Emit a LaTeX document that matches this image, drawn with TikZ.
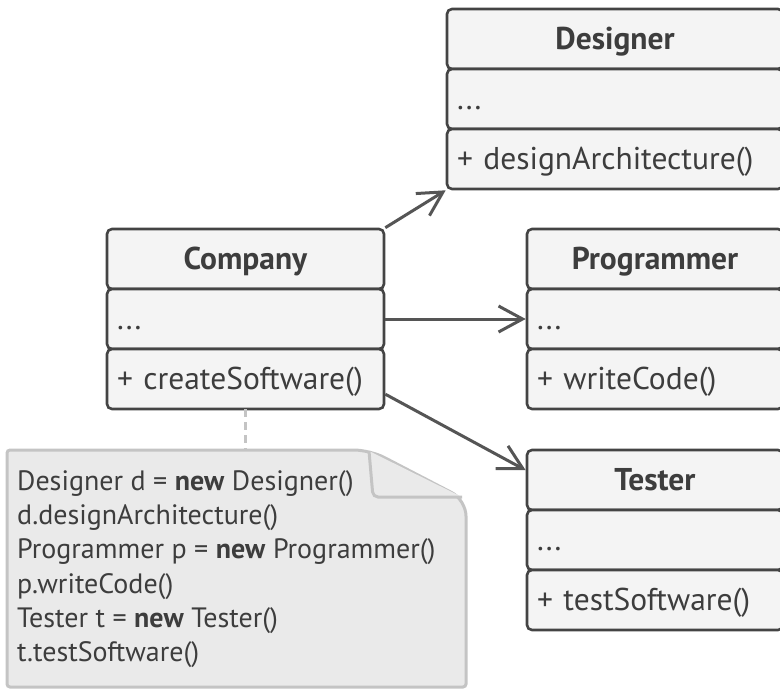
\documentclass[tikz,border=0pt]{standalone}
\usepackage{fontspec}
\setmainfont{PT Sans}
\usepackage{tikz}
\usetikzlibrary{positioning, fit, arrows.meta}

\definecolor{boxline}{HTML}{444444}
\definecolor{boxfill}{HTML}{F4F4F4}
\definecolor{notefill}{HTML}{EAEAEA}
\definecolor{noteline}{HTML}{C4C4C4}
\definecolor{txt}{HTML}{3D3D3D}
\definecolor{arrowcol}{HTML}{555555}

\begin{document}
\begin{tikzpicture}[
  x=1pt, y=-1pt,
  node distance=0pt and 143pt,
  classhead/.style={draw=boxline, fill=boxfill, line width=2.6pt, rounded corners=5pt,
    outer sep=0pt, minimum height=60pt, inner xsep=10pt, inner ysep=0pt,
    text height=21pt, text depth=1pt, text=txt, align=center,
    font=\fontsize{31.5}{36}\selectfont\bfseries},
  classpart/.style={classhead, align=left, font=\fontsize{31.5}{36}\selectfont},
  classbox/.style={inner sep=0pt, outer sep=1.3pt},
  assoc/.style={draw=arrowcol, line width=3pt, -{Straight Barb[length=24pt,width=26pt]}},
  notebox/.style={draw=noteline, fill=notefill, line width=3pt},
  dashline/.style={draw=noteline, line width=3pt, dash pattern=on 8pt off 5pt}
]
\useasboundingbox (0,0) rectangle (780,689);

% Company
\node[classhead, text width=257pt, anchor=north west] (chead) at (107,229) {Company};
\node[classpart, text width=257pt, below=of chead] (cattr) {...};
\node[classpart, text width=257pt, below=of cattr] (cmeth) {+ createSoftware()};
\node[classbox, fit=(chead)(cmeth)] (company) {};

% Designer
\node[classhead, text width=316pt, anchor=north west] (dhead) at (447,9) {Designer};
\node[classpart, text width=316pt, below=of dhead] (dattr) {...};
\node[classpart, text width=316pt, below=of dattr] (dmeth) {+ designArchitecture()};
\node[classbox, fit=(dhead)(dmeth)] (designer) {};

% Programmer
\node[classhead, text width=236pt, right=of chead] (phead) {Programmer};
\node[classpart, text width=236pt, below=of phead] (pattr) {...};
\node[classpart, text width=236pt, below=of pattr] (pmeth) {+ writeCode()};
\node[classbox, fit=(phead)(pmeth)] (programmer) {};

% Tester
\node[classhead, text width=236pt, below=41pt of pmeth] (thead) {Tester};
\node[classpart, text width=236pt, below=of thead] (tattr) {...};
\node[classpart, text width=236pt, below=of tattr] (tmeth) {+ testSoftware()};
\node[classbox, fit=(thead)(tmeth)] (tester) {};

% note
\draw[notebox] (7,560) [rounded corners=3pt] -- (7,450) [rounded corners=16pt] -- (370,450)
  -- (466,500) [rounded corners=3pt] -- (466,687) -- (7,687) -- cycle;
\draw[notebox, rounded corners=5pt] (369,451) -- (373,497) -- (462,497);
\node[anchor=north west, align=left, inner sep=0pt, text=txt,
  font=\fontsize{28}{34.3}\selectfont] (code) at (17,470)
  {Designer d = \textbf{new} Designer()\\
   d.designArchitecture()\\
   Programmer p = \textbf{new} Programmer()\\
   p.writeCode()\\
   Tester t = \textbf{new} Tester()\\
   t.testSoftware()};
\coordinate (notetop) at (cmeth.south |- 0,450);

\draw[dashline] (cmeth.south) -- (notetop);
\draw[assoc] (company.north east) -- (designer.south west);
\draw[assoc] (company) -- (programmer);
\draw[assoc] (company) -- (tester);

\end{tikzpicture}
\end{document}
